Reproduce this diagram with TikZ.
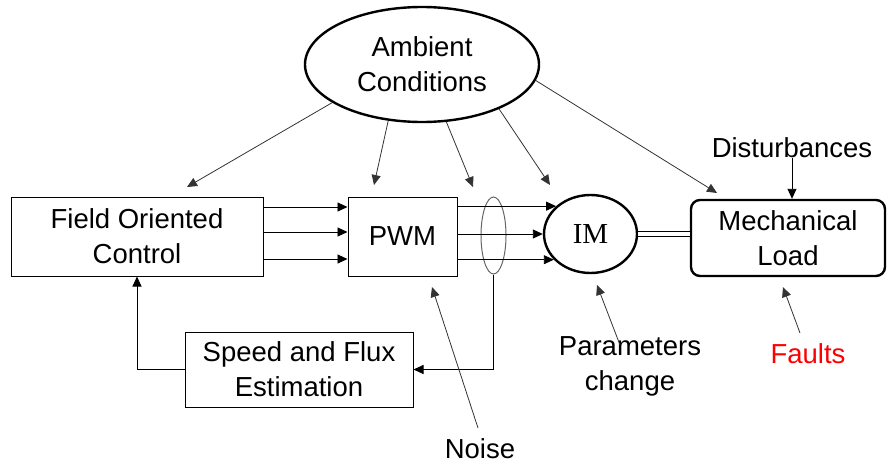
\documentclass[tikz,border=0pt]{standalone}
\usepackage{fontspec}
\setmainfont{Liberation Sans}
\newfontfamily\imfont{Liberation Serif}
\usetikzlibrary{arrows.meta,shapes.geometric,calc}
\begin{document}
\begin{tikzpicture}[x=1pt,y=-1pt,
  every node/.style={font=\fontsize{27.5}{35}\selectfont, align=center, inner sep=0pt},
  arr/.style={-{Triangle[length=10pt,width=9pt]}, line width=0.9pt},
  thinarr/.style={-{Triangle[length=10pt,width=9pt]}, line width=0.8pt, draw=black!80},
  blk/.style={draw, line width=1pt, rectangle},
  thickell/.style={draw, ellipse, line width=2.4pt}]
\useasboundingbox (0,0) rectangle (887,463);
% nodes
\node[thickell, minimum width=234pt, minimum height=115pt] (amb) at (422,64.5) {Ambient\\Conditions};
\node[blk, minimum width=252pt, minimum height=79pt] (foc) at (137,236.5) {Field Oriented\\Control};
\node[blk, minimum width=109pt, minimum height=79pt] (pwm) at (402.5,236.5) {PWM};
\node[thickell, minimum width=93pt, minimum height=78pt, font=\imfont\fontsize{29}{32}\selectfont] (im) at (590.5,234) {IM};
\node[draw=black!60, ellipse, line width=1pt, minimum width=25pt, minimum height=77pt] (se) at (493.5,235.5) {};
\node[draw, rectangle, rounded corners=9pt, line width=2.4pt, minimum width=194pt, minimum height=76pt] (mech) at (788,238) {Mechanical\\Load};
\node[blk, minimum width=228pt, minimum height=75pt] (speed) at (299,369.5) {Speed and Flux\\Estimation};
\node (dist) at (792,148) {Disturbances};
\node[text=red] (faults) at (808,354) {Faults};
\node (params) at (630,366) {Parameters\\change};
\node (noise) at (480,449) {Noise};
% free ends
\coordinate (a1) at (187,187);
\coordinate (a2) at (374,185);
\coordinate (a3) at (473,187);
\coordinate (a4) at (550,185);
\coordinate (a5) at (717,193);
\coordinate (nz0) at (478,428);
\coordinate (nz1) at (432,287);
\coordinate (pc0) at (620,345);
\coordinate (pc1) at (597,285);
\coordinate (ft0) at (800,333);
\coordinate (ft1) at (783,287);
% ambient arrows
\draw[thinarr] (amb.203) -- (a1);
\draw[thinarr] (amb.239) -- (a2);
\draw[thinarr] (amb.293) -- (a3);
\draw[thinarr] (amb.330) -- (a4);
\draw[thinarr] (amb.352) -- (a5);
% FOC -> PWM
\draw[arr] (foc.east |- 0,207) -- (pwm.west |- 0,207);
\draw[arr] (foc.east |- 0,232) -- (pwm.west |- 0,232);
\draw[arr] (foc.east |- 0,259) -- (pwm.west |- 0,259);
% PWM -> IM
\draw[arr] (pwm.east |- im.141) -- (im.141);
\draw[arr] (pwm.east |- im.west) -- (im.west);
\draw[arr] (pwm.east |- im.215) -- (im.215);
% IM -> load
\draw[double distance=4.5pt, line width=1pt] (im.east) -- (im.east -| mech.west);
% feedback
\draw[arr] (se.south) |- (speed.east);
\draw[arr] (speed.west) -| (foc.south);
% disturbances
\draw[arr] (dist.south) -- (dist.south |- mech.north);
% noise, params, faults
\draw[thinarr] (nz0) -- (nz1);
\draw[thinarr] (pc0) -- (pc1);
\draw[thinarr] (ft0) -- (ft1);
\end{tikzpicture}
\end{document}
